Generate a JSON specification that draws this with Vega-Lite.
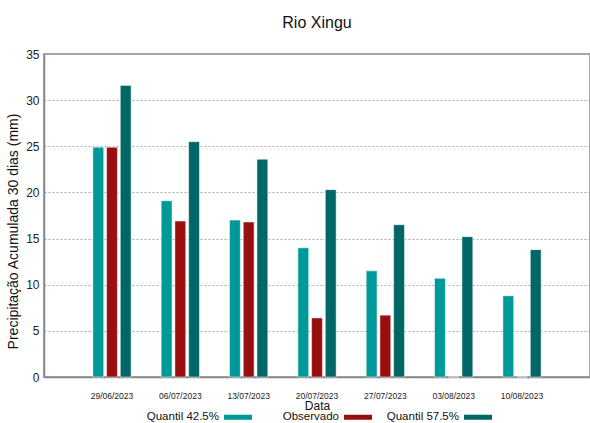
{
  "$schema": "https://vega.github.io/schema/vega-lite/v6.json",
  "width": 546,
  "height": 323,
  "autosize": "none",
  "padding": {"left": 44, "top": 54, "right": 0, "bottom": 46},
  "background": "white",
  "title": {"text": "Rio Xingu", "fontSize": 16, "fontWeight": "normal", "font": "Liberation Sans", "color": "#111", "offset": 17, "anchor": "middle"},
  "config": {
    "font": "Liberation Sans",
    "view": {"stroke": "#888", "strokeWidth": 1.5}
  },
  "data": {"values": [
    {"data": "29/06/2023", "serie": "Quantil 42.5%", "valor": 24.9},
    {"data": "29/06/2023", "serie": "Observado", "valor": 24.9},
    {"data": "29/06/2023", "serie": "Quantil 57.5%", "valor": 31.6},
    {"data": "06/07/2023", "serie": "Quantil 42.5%", "valor": 19.1},
    {"data": "06/07/2023", "serie": "Observado", "valor": 16.9},
    {"data": "06/07/2023", "serie": "Quantil 57.5%", "valor": 25.5},
    {"data": "13/07/2023", "serie": "Quantil 42.5%", "valor": 17.0},
    {"data": "13/07/2023", "serie": "Observado", "valor": 16.8},
    {"data": "13/07/2023", "serie": "Quantil 57.5%", "valor": 23.6},
    {"data": "20/07/2023", "serie": "Quantil 42.5%", "valor": 14.0},
    {"data": "20/07/2023", "serie": "Observado", "valor": 6.4},
    {"data": "20/07/2023", "serie": "Quantil 57.5%", "valor": 20.3},
    {"data": "27/07/2023", "serie": "Quantil 42.5%", "valor": 11.5},
    {"data": "27/07/2023", "serie": "Observado", "valor": 6.7},
    {"data": "27/07/2023", "serie": "Quantil 57.5%", "valor": 16.5},
    {"data": "03/08/2023", "serie": "Quantil 42.5%", "valor": 10.7},
    {"data": "03/08/2023", "serie": "Observado", "valor": 0},
    {"data": "03/08/2023", "serie": "Quantil 57.5%", "valor": 15.2},
    {"data": "10/08/2023", "serie": "Quantil 42.5%", "valor": 8.8},
    {"data": "10/08/2023", "serie": "Observado", "valor": 0},
    {"data": "10/08/2023", "serie": "Quantil 57.5%", "valor": 13.8}
  ]},
  "mark": {"type": "bar", "stroke": "#ffffff", "strokeOpacity": 0.5, "strokeWidth": 1},
  "encoding": {
    "x": {
      "field": "data", "type": "ordinal", "sort": null,
      "scale": {"paddingInner": 0.44, "paddingOuter": 0.715},
      "axis": {
        "title": "Data", "titleFontSize": 12, "titleFontWeight": "normal", "titleColor": "#111", "titlePadding": 1,
        "labelAngle": 0, "labelFontSize": 8.5, "labelColor": "#222", "labelPadding": 10,
        "tickSize": 4, "tickColor": "#888", "tickOpacity": 0,
        "domainColor": "#888", "domainWidth": 1.5, "grid": false
      }
    },
    "xOffset": {"field": "serie", "type": "nominal", "sort": ["Quantil 42.5%", "Observado", "Quantil 57.5%"], "scale": {"paddingInner": 0.21}},
    "y": {
      "field": "valor", "type": "quantitative",
      "scale": {"domain": [0, 35], "nice": false},
      "axis": {
        "title": "Precipitação Acumulada 30 dias (mm)", "titleFontSize": 14, "titleFontWeight": "normal", "titleColor": "#111", "titlePadding": 5, "titleY": 177,
        "values": [0, 5, 10, 15, 20, 25, 30, 35],
        "labelFontSize": 12, "labelColor": "#222", "labelPadding": 5,
        "ticks": false, "domainColor": "#888", "domainWidth": 1.5,
        "grid": true, "gridColor": "#aaa", "gridDash": [2, 2], "gridWidth": 1
      }
    },
    "color": {
      "field": "serie", "type": "nominal",
      "sort": ["Quantil 42.5%", "Observado", "Quantil 57.5%"],
      "scale": {"domain": ["Quantil 42.5%", "Observado", "Quantil 57.5%"], "range": ["#009999", "#990f0f", "#006666"]},
      "legend": {
        "title": null, "orient": "none", "direction": "horizontal",
        "legendX": 180, "legendY": 349,
        "gridAlign": "all",
        "symbolType": "M-1,-0.18H1V0.18H-1Z", "symbolSize": 784, "symbolStrokeWidth": 0, "symbolOpacity": 1,
        "labelAlign": "right", "labelOffset": -33, "labelFontSize": 11.5, "labelColor": "#111",
        "columnPadding": 14
      }
    }
  }
}
